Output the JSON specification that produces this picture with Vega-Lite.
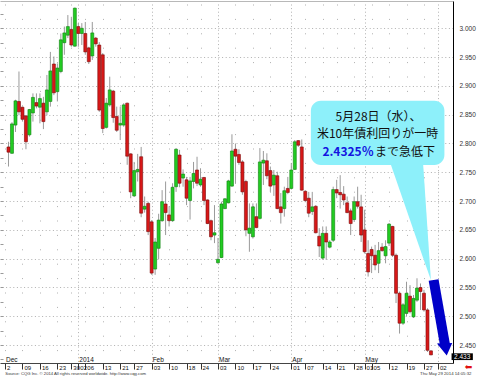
{
"$schema": "https://vega.github.io/schema/vega-lite/v6.json",
"width": 453,
"height": 362,
"autosize": "none",
"padding": {"left": 0, "top": 1, "right": 25, "bottom": 15},
"background": "#ffffff",
"config": {"view": {"stroke": null}, "font": "Liberation Sans"},
"datasets": {
"ohlc": [
{"d":"2013-12-03","o":2.794,"h":2.803,"l":2.760,"c":2.785},
{"d":"2013-12-04","o":2.783,"h":2.837,"l":2.782,"c":2.834},
{"d":"2013-12-05","o":2.832,"h":2.876,"l":2.820,"c":2.874},
{"d":"2013-12-06","o":2.873,"h":2.925,"l":2.849,"c":2.855},
{"d":"2013-12-09","o":2.863,"h":2.864,"l":2.838,"c":2.842},
{"d":"2013-12-10","o":2.848,"h":2.849,"l":2.790,"c":2.803},
{"d":"2013-12-11","o":2.815,"h":2.860,"l":2.812,"c":2.859},
{"d":"2013-12-12","o":2.853,"h":2.887,"l":2.838,"c":2.880},
{"d":"2013-12-13","o":2.871,"h":2.887,"l":2.861,"c":2.865},
{"d":"2013-12-16","o":2.863,"h":2.887,"l":2.835,"c":2.878},
{"d":"2013-12-17","o":2.870,"h":2.881,"l":2.825,"c":2.838},
{"d":"2013-12-18","o":2.855,"h":2.919,"l":2.849,"c":2.893},
{"d":"2013-12-19","o":2.873,"h":2.959,"l":2.864,"c":2.926},
{"d":"2013-12-20","o":2.938,"h":2.951,"l":2.884,"c":2.888},
{"d":"2013-12-23","o":2.890,"h":2.939,"l":2.873,"c":2.931},
{"d":"2013-12-24","o":2.925,"h":2.991,"l":2.922,"c":2.980},
{"d":"2013-12-26","o":2.975,"h":3.003,"l":2.954,"c":2.992},
{"d":"2013-12-27","o":2.988,"h":3.023,"l":2.983,"c":3.003},
{"d":"2013-12-30","o":2.998,"h":3.020,"l":2.968,"c":2.971},
{"d":"2013-12-31","o":2.969,"h":3.036,"l":2.968,"c":3.035},
{"d":"2014-01-02","o":3.003,"h":3.009,"l":2.968,"c":2.991},
{"d":"2014-01-03","o":2.991,"h":3.009,"l":2.971,"c":3.000},
{"d":"2014-01-06","o":2.991,"h":3.011,"l":2.954,"c":2.959},
{"d":"2014-01-07","o":2.966,"h":2.968,"l":2.938,"c":2.942},
{"d":"2014-01-08","o":2.952,"h":3.011,"l":2.945,"c":2.992},
{"d":"2014-01-09","o":2.983,"h":2.985,"l":2.968,"c":2.973},
{"d":"2014-01-10","o":2.971,"h":2.976,"l":2.855,"c":2.858},
{"d":"2014-01-13","o":2.954,"h":2.957,"l":2.818,"c":2.826},
{"d":"2014-01-14","o":2.828,"h":2.879,"l":2.826,"c":2.870},
{"d":"2014-01-15","o":2.867,"h":2.916,"l":2.864,"c":2.893},
{"d":"2014-01-16","o":2.891,"h":2.893,"l":2.836,"c":2.845},
{"d":"2014-01-17","o":2.847,"h":2.864,"l":2.820,"c":2.823},
{"d":"2014-01-21","o":2.832,"h":2.864,"l":2.806,"c":2.835},
{"d":"2014-01-22","o":2.832,"h":2.870,"l":2.829,"c":2.867},
{"d":"2014-01-23","o":2.870,"h":2.871,"l":2.763,"c":2.778},
{"d":"2014-01-24","o":2.782,"h":2.783,"l":2.705,"c":2.716},
{"d":"2014-01-27","o":2.709,"h":2.768,"l":2.707,"c":2.753},
{"d":"2014-01-28","o":2.751,"h":2.782,"l":2.734,"c":2.755},
{"d":"2014-01-29","o":2.777,"h":2.794,"l":2.672,"c":2.679},
{"d":"2014-01-30","o":2.686,"h":2.708,"l":2.680,"c":2.691},
{"d":"2014-01-31","o":2.696,"h":2.699,"l":2.641,"c":2.647},
{"d":"2014-02-03","o":2.664,"h":2.667,"l":2.572,"c":2.575},
{"d":"2014-02-04","o":2.582,"h":2.636,"l":2.572,"c":2.629},
{"d":"2014-02-05","o":2.618,"h":2.678,"l":2.599,"c":2.667},
{"d":"2014-02-06","o":2.666,"h":2.719,"l":2.664,"c":2.699},
{"d":"2014-02-07","o":2.695,"h":2.734,"l":2.641,"c":2.680},
{"d":"2014-02-10","o":2.676,"h":2.691,"l":2.656,"c":2.666},
{"d":"2014-02-11","o":2.666,"h":2.731,"l":2.664,"c":2.724},
{"d":"2014-02-12","o":2.725,"h":2.792,"l":2.716,"c":2.790},
{"d":"2014-02-13","o":2.780,"h":2.789,"l":2.724,"c":2.731},
{"d":"2014-02-14","o":2.740,"h":2.755,"l":2.725,"c":2.747},
{"d":"2014-02-18","o":2.737,"h":2.742,"l":2.693,"c":2.705},
{"d":"2014-02-19","o":2.701,"h":2.742,"l":2.668,"c":2.735},
{"d":"2014-02-20","o":2.734,"h":2.768,"l":2.722,"c":2.748},
{"d":"2014-02-21","o":2.754,"h":2.777,"l":2.726,"c":2.731},
{"d":"2014-02-24","o":2.728,"h":2.757,"l":2.725,"c":2.738},
{"d":"2014-02-25","o":2.741,"h":2.742,"l":2.693,"c":2.701},
{"d":"2014-02-26","o":2.702,"h":2.703,"l":2.660,"c":2.661},
{"d":"2014-02-27","o":2.666,"h":2.668,"l":2.632,"c":2.638},
{"d":"2014-02-28","o":2.641,"h":2.693,"l":2.627,"c":2.645},
{"d":"2014-03-03","o":2.593,"h":2.636,"l":2.591,"c":2.599},
{"d":"2014-03-04","o":2.602,"h":2.699,"l":2.601,"c":2.695},
{"d":"2014-03-05","o":2.687,"h":2.705,"l":2.686,"c":2.704},
{"d":"2014-03-06","o":2.697,"h":2.737,"l":2.696,"c":2.735},
{"d":"2014-03-07","o":2.726,"h":2.816,"l":2.725,"c":2.787},
{"d":"2014-03-10","o":2.790,"h":2.800,"l":2.730,"c":2.778},
{"d":"2014-03-11","o":2.781,"h":2.790,"l":2.763,"c":2.767},
{"d":"2014-03-12","o":2.768,"h":2.771,"l":2.711,"c":2.716},
{"d":"2014-03-13","o":2.734,"h":2.737,"l":2.639,"c":2.650},
{"d":"2014-03-14","o":2.644,"h":2.696,"l":2.612,"c":2.653},
{"d":"2014-03-17","o":2.638,"h":2.696,"l":2.635,"c":2.690},
{"d":"2014-03-18","o":2.673,"h":2.696,"l":2.653,"c":2.654},
{"d":"2014-03-19","o":2.670,"h":2.792,"l":2.668,"c":2.768},
{"d":"2014-03-20","o":2.766,"h":2.787,"l":2.728,"c":2.771},
{"d":"2014-03-21","o":2.770,"h":2.783,"l":2.738,"c":2.744},
{"d":"2014-03-24","o":2.753,"h":2.760,"l":2.716,"c":2.726},
{"d":"2014-03-25","o":2.728,"h":2.754,"l":2.709,"c":2.745},
{"d":"2014-03-26","o":2.744,"h":2.751,"l":2.686,"c":2.687},
{"d":"2014-03-27","o":2.690,"h":2.714,"l":2.661,"c":2.680},
{"d":"2014-03-28","o":2.687,"h":2.725,"l":2.673,"c":2.718},
{"d":"2014-03-31","o":2.722,"h":2.742,"l":2.712,"c":2.715},
{"d":"2014-04-01","o":2.722,"h":2.766,"l":2.720,"c":2.754},
{"d":"2014-04-02","o":2.755,"h":2.806,"l":2.754,"c":2.803},
{"d":"2014-04-03","o":2.805,"h":2.806,"l":2.794,"c":2.797},
{"d":"2014-04-04","o":2.794,"h":2.807,"l":2.718,"c":2.719},
{"d":"2014-04-07","o":2.717,"h":2.719,"l":2.698,"c":2.701},
{"d":"2014-04-08","o":2.705,"h":2.716,"l":2.672,"c":2.679},
{"d":"2014-04-09","o":2.682,"h":2.716,"l":2.676,"c":2.690},
{"d":"2014-04-10","o":2.691,"h":2.693,"l":2.644,"c":2.645},
{"d":"2014-04-11","o":2.639,"h":2.653,"l":2.603,"c":2.622},
{"d":"2014-04-14","o":2.601,"h":2.656,"l":2.598,"c":2.644},
{"d":"2014-04-15","o":2.644,"h":2.656,"l":2.598,"c":2.629},
{"d":"2014-04-16","o":2.620,"h":2.632,"l":2.618,"c":2.629},
{"d":"2014-04-17","o":2.632,"h":2.725,"l":2.629,"c":2.720},
{"d":"2014-04-21","o":2.720,"h":2.737,"l":2.705,"c":2.714},
{"d":"2014-04-22","o":2.715,"h":2.745,"l":2.687,"c":2.711},
{"d":"2014-04-23","o":2.712,"h":2.726,"l":2.693,"c":2.702},
{"d":"2014-04-24","o":2.697,"h":2.708,"l":2.679,"c":2.680},
{"d":"2014-04-25","o":2.683,"h":2.687,"l":2.641,"c":2.661},
{"d":"2014-04-28","o":2.668,"h":2.708,"l":2.664,"c":2.699},
{"d":"2014-04-29","o":2.699,"h":2.725,"l":2.687,"c":2.691},
{"d":"2014-04-30","o":2.690,"h":2.711,"l":2.629,"c":2.641},
{"d":"2014-05-01","o":2.650,"h":2.685,"l":2.609,"c":2.612},
{"d":"2014-05-02","o":2.609,"h":2.632,"l":2.569,"c":2.577},
{"d":"2014-05-05","o":2.616,"h":2.621,"l":2.575,"c":2.605},
{"d":"2014-05-06","o":2.606,"h":2.624,"l":2.580,"c":2.589},
{"d":"2014-05-07","o":2.592,"h":2.629,"l":2.575,"c":2.614},
{"d":"2014-05-08","o":2.620,"h":2.627,"l":2.612,"c":2.614},
{"d":"2014-05-09","o":2.605,"h":2.632,"l":2.592,"c":2.621},
{"d":"2014-05-12","o":2.627,"h":2.662,"l":2.622,"c":2.660},
{"d":"2014-05-13","o":2.656,"h":2.657,"l":2.603,"c":2.606},
{"d":"2014-05-14","o":2.606,"h":2.609,"l":2.523,"c":2.540},
{"d":"2014-05-15","o":2.540,"h":2.543,"l":2.470,"c":2.488},
{"d":"2014-05-16","o":2.488,"h":2.523,"l":2.485,"c":2.520},
{"d":"2014-05-19","o":2.505,"h":2.560,"l":2.500,"c":2.540},
{"d":"2014-05-20","o":2.535,"h":2.554,"l":2.505,"c":2.508},
{"d":"2014-05-21","o":2.499,"h":2.537,"l":2.497,"c":2.531},
{"d":"2014-05-22","o":2.528,"h":2.566,"l":2.525,"c":2.549},
{"d":"2014-05-23","o":2.550,"h":2.557,"l":2.511,"c":2.543},
{"d":"2014-05-27","o":2.540,"h":2.546,"l":2.508,"c":2.511},
{"d":"2014-05-28","o":2.511,"h":2.514,"l":2.438,"c":2.441},
{"d":"2014-05-29","o":2.440,"h":2.441,"l":2.4325,"c":2.433}
],
"months": [
{"m":"Dec","i":0},{"m":"2014","i":21},{"m":"Feb","i":42},{"m":"Mar","i":61},{"m":"Apr","i":82},{"m":"May","i":103}
],
"pointer": [
{"px":110.35,"py":2.766,"py2":2.766},{"px":119.74,"py":2.766,"py2":2.6015},{"px":121.98,"py":2.563,"py2":2.563}
],
"arrowhead": [
{"px":123.72,"py":2.4528,"py2":2.4528},{"px":126.52,"py":2.4532,"py2":2.4319},{"px":128.09,"py":2.4536,"py2":2.4536}
]
},
"layer": [
{
"data": {"name": "ohlc"},
"transform": [{"window": [{"op": "row_number", "as": "i"}], "sort": [{"field": "d"}]}],
"mark": {"type": "rule", "color": "#9a9a9a", "strokeWidth": 1},
"encoding": {
"x": {"field": "i", "type": "quantitative", "scale": {"domain": [0, 126.88], "nice": false, "zero": false},
"axis": {"orient": "bottom", "title": null,
"values": [0,5,10,15,19,21,23,28,33,37,42,47,52,56,61,66,71,76,82,86,91,95,100,103,105,110,115,120,124],
"labelExpr": "['2','09','16','23','30','02','06','13','21','27','03','10','18','24','03','10','17','24','01','07','14','21','28','01','05','12','19','27','02'][indexof([0,5,10,15,19,21,23,28,33,37,42,47,52,56,61,66,71,76,82,86,91,95,100,103,105,110,115,120,124], datum.value)]",
"labelAlign": "left", "labelBaseline": "top", "labelFontSize": 6, "labelColor": "#111", "labelPadding": -5, "labelOffset": 1.5,
"labelOverlap": false, "labelFlush": false, "labelBound": false,
"ticks": true, "tickSize": 6, "tickColor": "#333", "tickWidth": 1,
"domain": true, "domainColor": "#444", "domainWidth": 1,
"grid": true, "gridColor": "#b0b0b0",
"gridDash": {"condition": {"test": "indexof([21,42,61,82,103,124], datum.value) >= 0", "value": [1, 2.6]}, "value": [1, 13.4]},
"gridDashOffset": 11.4}},
"y": {"field": "l", "type": "quantitative", "scale": {"domain": [2.4189, 3.0474], "nice": false, "zero": false},
"axis": {"orient": "right", "title": null, "values": [2.45,2.5,2.55,2.6,2.65,2.7,2.75,2.8,2.85,2.9,2.95,3.0], "format": ".3f",
"labelFontSize": 6.5, "labelColor": "#333", "ticks": false, "labelPadding": 6,
"domain": true, "domainColor": "#000", "domainWidth": 1,
"grid": true, "gridColor": "#b0b0b0", "gridDash": [1, 2.6]}},
"y2": {"field": "h"}
}
},
{
"data": {"name": "ohlc"},
"transform": [{"window": [{"op": "row_number", "as": "i"}], "sort": [{"field": "d"}]}],
"mark": {"type": "bar", "size": 3, "strokeWidth": 0.6},
"encoding": {
"x": {"field": "i", "type": "quantitative", "axis": null},
"y": {"field": "o", "type": "quantitative",
"axis": {"orient": "left", "title": null, "labels": false, "domain": false, "grid": false, "ticks": true, "tickSize": -3, "tickColor": "#999",
"values": [2.425,2.45,2.475,2.5,2.525,2.55,2.575,2.6,2.625,2.65,2.675,2.7,2.725,2.75,2.775,2.8,2.825,2.85,2.875,2.9,2.925,2.95,2.975,3.0,3.025]}},
"y2": {"field": "c"},
"color": {"condition": {"test": "datum.c >= datum.o", "value": "#22CC22"}, "value": "#D81818"},
"stroke": {"condition": {"test": "datum.c >= datum.o", "value": "#0F7F0F"}, "value": "#7A0A0A"}
}
},
{
"data": {"name": "months"},
"mark": {"type": "text", "align": "left", "baseline": "bottom", "dx": 1, "dy": -0.5, "fontSize": 6.5, "color": "#111"},
"encoding": {
"x": {"field": "i", "type": "quantitative", "axis": {"orient": "top", "title": null, "labels": false, "ticks": false, "grid": false, "domain": true, "domainColor": "#b8b8b8", "domainWidth": 1.2}},
"y": {"datum": 2.4189, "axis": null},
"text": {"field": "m"}
}
},
{
"data": {"values": [{}]},
"mark": {"type": "rect", "cornerRadius": 10, "color": "#8DF0FA"},
"encoding": {"x": {"datum": 87.6, "axis": null}, "x2": {"datum": 125.85}, "y": {"datum": 2.8743, "axis": null}, "y2": {"datum": 2.7626}}
},
{
"data": {"name": "pointer"},
"mark": {"type": "area", "color": "#8DF0FA", "opacity": 1},
"encoding": {"x": {"field": "px", "type": "quantitative", "axis": null}, "y": {"field": "py", "type": "quantitative", "axis": null}, "y2": {"field": "py2"}}
},
{
"data": {"values": [{}]},
"mark": {"type": "text", "text": "5月28日（水）、", "font": "Noto Sans CJK JP", "fontSize": 12, "color": "#111", "align": "center", "baseline": "middle"},
"encoding": {"x": {"datum": 107.0, "axis": null}, "y": {"datum": 2.8465, "axis": null}}
},
{
"data": {"values": [{}]},
"mark": {"type": "text", "text": "米10年債利回りが一時", "font": "Noto Sans CJK JP", "fontSize": 12, "color": "#111", "align": "center", "baseline": "middle"},
"encoding": {"x": {"datum": 106.7, "axis": null}, "y": {"datum": 2.8172, "axis": null}}
},
{
"data": {"values": [{}]},
"mark": {"type": "text", "text": "2.4325％", "font": "Noto Sans CJK JP", "fontSize": 12, "fontWeight": "bold", "color": "#1414E0", "align": "right", "baseline": "middle"},
"encoding": {"x": {"datum": 105.6, "axis": null}, "y": {"datum": 2.7857, "axis": null}}
},
{
"data": {"values": [{}]},
"mark": {"type": "text", "text": "まで急低下", "font": "Noto Sans CJK JP", "fontSize": 12, "color": "#111", "align": "left", "baseline": "middle"},
"encoding": {"x": {"datum": 106.0, "axis": null}, "y": {"datum": 2.7857, "axis": null}}
},
{
"data": {"values": [{}]},
"mark": {"type": "rule", "color": "#0000C8", "strokeWidth": 10, "strokeCap": "butt"},
"encoding": {"x": {"datum": 122.76, "axis": null}, "y": {"datum": 2.563, "axis": null}, "x2": {"datum": 126.07}, "y2": {"datum": 2.4485}}
},
{
"data": {"name": "arrowhead"},
"mark": {"type": "area", "color": "#0000C8", "opacity": 1},
"encoding": {"x": {"field": "px", "type": "quantitative", "axis": null}, "y": {"field": "py", "type": "quantitative", "axis": null}, "y2": {"field": "py2"}}
},
{
"data": {"values": [{}]},
"mark": {"type": "rect", "color": "#000000"},
"encoding": {"x": {"datum": 127.9, "axis": null}, "x2": {"datum": 134.0}, "y": {"datum": 2.4357, "axis": null}, "y2": {"datum": 2.424}}
},
{
"data": {"values": [{}]},
"mark": {"type": "text", "text": "2.433", "fontSize": 6.5, "color": "#ffffff", "align": "center", "baseline": "middle"},
"encoding": {"x": {"datum": 130.95, "axis": null}, "y": {"datum": 2.4297, "axis": null}}
},
{
"data": {"values": [{}]},
"mark": {"type": "text", "text": "⬅", "font": "DejaVu Sans", "fontSize": 9, "color": "#E01010", "align": "center", "baseline": "middle"},
"encoding": {"x": {"datum": 132.76, "axis": null}, "y": {"datum": 2.4128, "axis": null}}
},
{
"data": {"values": [{}]},
"mark": {"type": "text", "text": "Source: CQG Inc. © 2014 All rights reserved worldwide. http://www.cqg.com", "fontSize": 4.2, "color": "#333", "align": "left", "baseline": "middle"},
"encoding": {"x": {"datum": 0.1, "axis": null}, "y": {"datum": 2.399, "axis": null}}
},
{
"data": {"values": [{}]},
"mark": {"type": "text", "text": "Thu May 29 2014 14:05:32", "fontSize": 4.3, "color": "#333", "align": "right", "baseline": "middle"},
"encoding": {"x": {"datum": 133.6, "axis": null}, "y": {"datum": 2.399, "axis": null}}
}
],
"resolve": {"axis": {"x": "independent", "y": "independent"}}
}
